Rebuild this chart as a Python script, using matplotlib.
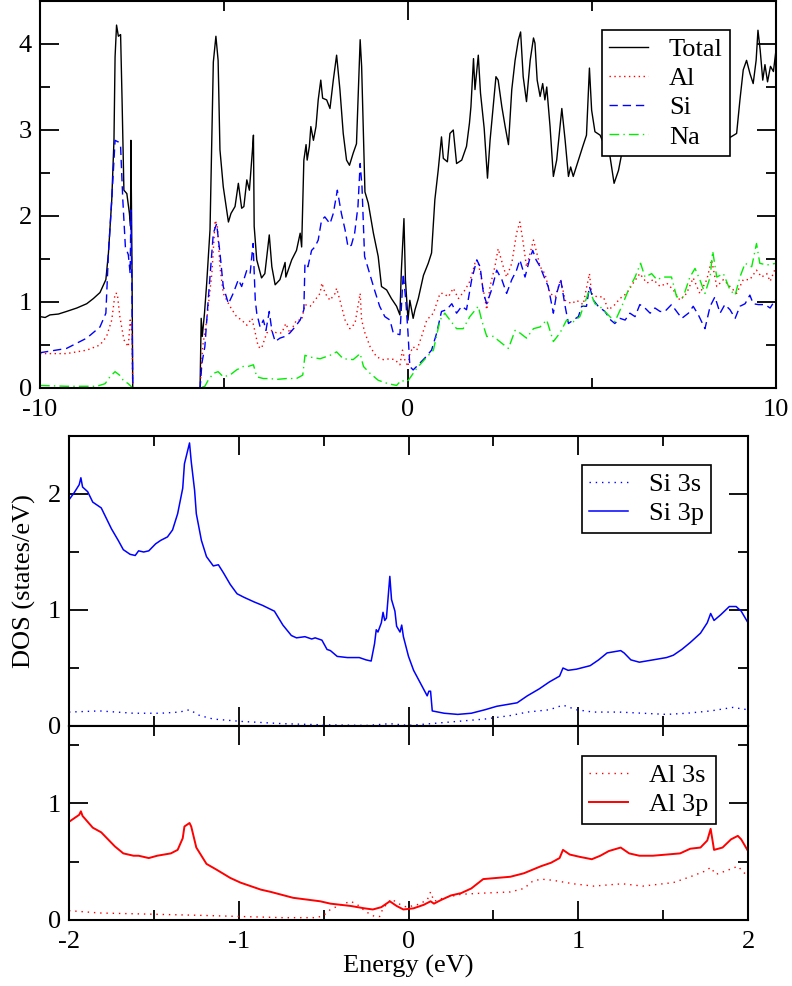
import matplotlib
matplotlib.use("Agg")
import matplotlib.pyplot as plt
from matplotlib.ticker import MultipleLocator

plt.rcParams['font.family'] = ['Liberation Serif', 'DejaVu Serif']
plt.rcParams['font.size'] = 19
plt.rcParams['axes.unicode_minus'] = False

# ---- top panel: total and partial DOS, -10..10 eV ----
total_e = [-10, -9.86, -9.73, -9.5, -9.28, -9.0, -8.73, -8.55, -8.37, -8.21, -8.14, -8.05, -7.99, -7.96,
           -7.92, -7.87, -7.81, -7.77, -7.72, -7.64, -7.57, -7.54, -7.53, -7.5, -7.48, -5.65, -5.62,
           -5.59, -5.53, -5.47, -5.38, -5.29, -5.22, -5.16, -5.11, -5.02, -4.88, -4.81, -4.70, -4.61,
           -4.52, -4.46, -4.38, -4.31, -4.23, -4.20, -4.18, -4.11, -3.98, -3.89, -3.77, -3.70, -3.61,
           -3.48, -3.34, -3.32, -3.16, -3.03, -2.93, -2.89, -2.83, -2.77, -2.74, -2.68, -2.64, -2.57,
           -2.50, -2.44, -2.37, -2.32, -2.21, -2.12, -2.03, -1.94, -1.85, -1.76, -1.67, -1.59, -1.49,
           -1.40, -1.30, -1.26, -1.17, -1.08, -0.94, -0.81, -0.72, -0.58, -0.45, -0.31, -0.22, -0.18,
           -0.11, -0.07, 0.0, 0.05, 0.14, 0.19, 0.28, 0.42, 0.55, 0.64, 0.73, 0.82, 0.91, 0.96, 1.07,
           1.14, 1.23, 1.32, 1.46, 1.59, 1.67, 1.71, 1.78, 1.82, 1.91, 1.97, 2.07, 2.16, 2.23, 2.39,
           2.45, 2.55, 2.64, 2.73, 2.82, 2.91, 3.00, 3.06, 3.13, 3.22, 3.32, 3.41, 3.45, 3.51, 3.59,
           3.66, 3.72, 3.77, 3.86, 3.95, 4.04, 4.18, 4.27, 4.36, 4.42, 4.49, 4.63, 4.75, 4.85, 4.93,
           4.99, 5.08, 5.22, 5.35, 5.49, 5.60, 5.72, 5.81, 6.0, 6.2, 6.5, 6.8, 7.1, 7.4, 7.7, 8.0,
           8.12, 8.4, 8.7, 8.93, 9.02, 9.11, 9.2, 9.29, 9.38, 9.46, 9.51, 9.57, 9.64, 9.7, 9.77,
           9.85, 9.93, 10.0]
total_dos = [0.83, 0.82, 0.85, 0.86, 0.89, 0.93, 0.98, 1.04, 1.11, 1.26, 1.57, 2.19, 2.88, 3.85,
             4.22, 4.09, 4.11, 3.35, 2.30, 2.26, 2.03, 1.88, 2.88, 1.41, 0.0, 0.0, 0.81,
             0.60, 0.87, 1.22, 1.84, 3.79, 4.09, 3.81, 2.77, 2.34, 1.93, 2.03, 2.11, 2.38,
             2.09, 2.11, 2.42, 2.30, 2.75, 2.94, 1.88, 1.49, 1.28, 1.33, 1.78, 1.41, 1.20,
             1.26, 1.46, 1.29, 1.49, 1.60, 1.80, 1.64, 2.65, 2.83, 2.65, 2.81, 3.04, 2.88,
             3.04, 3.35, 3.58, 3.37, 3.35, 3.25, 3.58, 3.87, 3.47, 2.96, 2.65, 2.59, 2.73,
             2.84, 4.05, 3.74, 2.28, 2.15, 1.80, 1.53, 1.18, 1.14, 1.04, 0.95, 0.85, 1.37,
             1.97, 1.26, 0.79, 1.02, 0.81, 0.91, 1.04, 1.31, 1.45, 1.57, 2.19, 2.53, 2.92, 2.67, 2.63,
             2.96, 3.00, 2.61, 2.65, 2.81, 3.08, 3.27, 3.83, 3.47, 3.87, 3.43, 3.02, 2.44, 2.88, 3.62,
             3.58, 3.27, 3.04, 2.83, 3.47, 3.81, 4.05, 4.14, 3.62, 3.33, 3.81, 4.07, 4.01, 3.58, 3.39,
             3.54, 3.35, 3.50, 3.04, 2.46, 2.65, 3.25, 2.88, 2.46, 2.57, 2.46, 2.65, 2.81, 2.94, 3.72,
             3.23, 2.98, 2.94, 2.81, 2.69, 2.38, 2.53, 2.73, 3.0, 3.4, 3.1, 3.6, 3.2, 3.5, 3.0, 3.2,
             2.73, 3.1, 2.9, 2.96, 3.35, 3.70, 3.81, 3.66, 3.54, 3.81, 4.16, 3.93, 3.58, 3.76, 3.56,
             3.74, 3.68, 3.93]

al_e = [-10, -9.28, -8.73, -8.37, -8.19, -8.05, -7.96, -7.9, -7.83, -7.72, -7.6, -7.55, -7.5, -7.48,
        -5.65, -5.58, -5.47, -5.33, -5.24, -5.18, -5.11, -5.02, -4.84, -4.66, -4.52, -4.38, -4.24,
        -4.15, -4.07, -3.98, -3.84, -3.70, -3.57, -3.43, -3.32, -3.21, -3.03, -2.89, -2.80, -2.66,
        -2.53, -2.39, -2.34, -2.25, -2.12, -1.98, -1.94, -1.85, -1.71, -1.58, -1.44, -1.30, -1.26,
        -1.17, -1.03, -0.85, -0.67, -0.49, -0.36, -0.22, -0.15, -0.09, 0.0, 0.05, 0.14, 0.24, 0.37,
        0.51, 0.69, 0.87, 0.96, 1.10, 1.23, 1.37, 1.55, 1.68, 1.82, 1.91, 2.0, 2.14, 2.23, 2.36,
        2.45, 2.59, 2.68, 2.82, 2.95, 3.04, 3.12, 3.22, 3.32, 3.41, 3.5, 3.59, 3.72, 3.86, 4.0,
        4.15, 4.27, 4.45, 4.58, 4.76, 4.93, 4.99, 5.13, 5.31, 5.44, 5.58, 5.76, 5.94, 6.12, 6.3,
        6.49, 6.67, 6.85, 7.03, 7.21, 7.39, 7.57, 7.75, 7.93, 8.12, 8.25, 8.39, 8.57, 8.75, 8.93,
        9.11, 9.29, 9.47, 9.61, 9.75, 9.84, 10.0]
al_dos = [0.40, 0.40, 0.44, 0.50, 0.60, 0.79, 1.10, 1.10, 0.83, 0.56, 0.48, 0.79, 0.64, 0.0,
          0.0, 0.48, 0.79, 1.33, 1.95, 1.88, 1.41, 1.10, 0.95, 0.83, 0.79, 0.73, 0.81,
          0.64, 0.48, 0.46, 0.64, 0.67, 0.64, 0.64, 0.75, 0.64, 0.79, 0.79, 0.97, 0.95,
          1.02, 1.10, 1.22, 1.10, 1.02, 1.10, 1.16, 1.02, 0.79, 0.69, 0.75, 1.10, 0.79,
          0.64, 0.48, 0.36, 0.33, 0.34, 0.33, 0.27, 0.44, 0.33, 0.25, 0.40, 0.48, 0.44, 0.60,
          0.79, 0.87, 1.10, 1.10, 1.06, 1.16, 1.04, 1.14, 1.24, 1.45, 1.45, 1.26, 0.91, 1.18, 1.41,
          1.62, 1.41, 1.29, 1.45, 1.80, 1.93, 1.72, 1.41, 1.57, 1.72, 1.57, 1.41, 1.33, 1.10, 1.06,
          1.26, 1.02, 0.98, 1.02, 0.97, 1.33, 1.10, 1.06, 1.06, 0.91, 0.95, 1.04, 1.10, 1.22, 1.33,
          1.22, 1.26, 1.18, 1.22, 1.14, 1.02, 1.10, 1.28, 1.10, 1.26, 1.49, 1.18, 1.26, 1.18, 1.10,
          1.26, 1.26, 1.37, 1.29, 1.33, 1.24, 1.41]

si_e = [-10, -9.28, -8.73, -8.37, -8.21, -8.14, -8.05, -7.96, -7.87, -7.81, -7.75, -7.68, -7.6, -7.55,
        -7.53, -7.5, -7.48, -5.65, -5.6, -5.52, -5.43, -5.29, -5.2, -5.11, -5.02, -4.88, -4.75,
        -4.61, -4.52, -4.38, -4.29, -4.21, -4.15, -4.11, -4.02, -3.93, -3.86, -3.77, -3.70, -3.61,
        -3.48, -3.34, -3.21, -3.07, -2.93, -2.83, -2.80, -2.72, -2.62, -2.53, -2.44, -2.35, -2.26,
        -2.12, -2.03, -1.92, -1.81, -1.71, -1.63, -1.54, -1.45, -1.36, -1.30, -1.25, -1.18, -1.04,
        -0.91, -0.77, -0.63, -0.49, -0.40, -0.22, -0.13, -0.06, 0.0, 0.05, 0.14, 0.28, 0.46, 0.64,
        0.78, 0.91, 1.05, 1.19, 1.32, 1.46, 1.59, 1.73, 1.87, 1.96, 2.05, 2.14, 2.27, 2.41, 2.55,
        2.68, 2.82, 2.95, 3.04, 3.18, 3.30, 3.39, 3.48, 3.59, 3.70, 3.81, 3.95, 4.04, 4.15, 4.27,
        4.36, 4.49, 4.63, 4.72, 4.85, 4.93, 5.04, 5.17, 5.35, 5.51, 5.62, 5.76, 5.90, 6.03, 6.17,
        6.3, 6.44, 6.58, 6.71, 6.85, 6.98, 7.16, 7.3, 7.44, 7.62, 7.75, 7.89, 8.07, 8.21, 8.34,
        8.48, 8.61, 8.75, 8.89, 9.02, 9.16, 9.29, 9.38, 9.52, 9.7, 9.84, 10.0]
si_dos = [0.41, 0.46, 0.58, 0.71, 0.87, 1.57, 2.19, 2.88, 2.86, 2.81, 2.19, 1.64, 1.55, 1.33,
          2.07, 1.02, 0.0, 0.0, 0.29, 0.48, 1.02, 1.80, 1.91, 1.57, 1.18, 0.98, 1.10,
          1.26, 1.18, 1.37, 1.33, 1.68, 1.02, 0.87, 0.71, 0.79, 0.67, 0.89, 0.67, 0.54,
          0.58, 0.60, 0.64, 0.71, 0.79, 0.91, 1.45, 1.41, 1.60, 1.64, 1.72, 1.95, 1.99,
          1.91, 2.03, 2.30, 2.03, 1.84, 1.64, 1.66, 1.80, 2.11, 2.61, 2.34, 1.53, 1.33,
          1.14, 0.95, 0.83, 0.79, 0.64, 0.62, 1.33, 1.02, 0.64, 0.25, 0.21, 0.27, 0.35, 0.44,
          0.64, 0.89, 0.91, 0.98, 0.87, 0.95, 0.91, 1.26, 1.49, 1.41, 1.10, 0.98, 1.14, 1.37, 1.26,
          1.10, 1.26, 1.37, 1.49, 1.29, 1.49, 1.60, 1.49, 1.41, 1.29, 1.18, 0.87, 1.10, 1.26, 0.95,
          0.75, 0.79, 0.83, 0.95, 0.95, 1.18, 1.02, 0.95, 0.89, 0.79, 0.75, 0.81, 0.79, 0.87, 0.83,
          0.97, 0.93, 0.87, 0.93, 0.89, 0.89, 0.97, 0.89, 0.81, 0.87, 0.95, 0.85, 0.69, 0.95, 1.06,
          0.87, 0.97, 0.91, 0.81, 0.95, 0.98, 1.08, 0.98, 0.97, 0.97, 0.93, 1.04]

na_e = [-10, -9.28, -8.46, -8.23, -8.1, -7.96, -7.84, -7.74, -7.6, -7.48, -5.65, -5.52, -5.43, -5.29,
        -5.16, -5.02, -4.84, -4.66, -4.48, -4.35, -4.2, -4.11, -3.93, -3.75, -3.57, -3.3, -3.03,
        -2.86, -2.80, -2.66, -2.39, -2.12, -1.94, -1.76, -1.49, -1.30, -1.21, -1.03, -0.81, -0.54,
        -0.31, -0.18, -0.06, 0.01, 0.24, 0.51, 0.69, 0.87, 1.0, 1.14, 1.32, 1.50, 1.68, 1.91, 2.0,
        2.14, 2.32, 2.55, 2.73, 2.91, 3.04, 3.22, 3.41, 3.59, 3.77, 3.95, 4.13, 4.31, 4.49, 4.67,
        4.93, 5.08, 5.26, 5.44, 5.62, 5.81, 5.99, 6.17, 6.32, 6.44, 6.62, 6.76, 6.94, 7.16, 7.3,
        7.48, 7.66, 7.8, 7.93, 8.07, 8.21, 8.28, 8.39, 8.57, 8.75, 8.89, 9.02, 9.16, 9.34, 9.47,
        9.56, 9.75, 10.0]
na_dos = [0.03, 0.02, 0.02, 0.05, 0.13, 0.19, 0.15, 0.09, 0.05, 0.0, 0.0, 0.02, 0.09, 0.17,
          0.19, 0.13, 0.15, 0.21, 0.25, 0.25, 0.27, 0.13, 0.11, 0.11, 0.10, 0.11, 0.11,
          0.15, 0.38, 0.36, 0.34, 0.38, 0.42, 0.34, 0.33, 0.40, 0.25, 0.17, 0.09, 0.05,
          0.03, 0.09, 0.07, 0.09, 0.23, 0.36, 0.44, 0.79, 0.87, 0.79, 0.69, 0.69, 0.83, 0.95, 0.79,
          0.60, 0.60, 0.52, 0.46, 0.67, 0.64, 0.58, 0.69, 0.71, 0.79, 0.54, 0.64, 0.79, 0.77, 0.83,
          1.14, 0.98, 0.93, 0.85, 0.77, 0.95, 1.14, 1.29, 1.45, 1.29, 1.33, 1.26, 1.29, 1.29, 1.06,
          1.06, 1.29, 1.39, 1.26, 1.10, 1.29, 1.59, 1.29, 1.33, 1.14, 1.08, 1.29, 1.45, 1.41, 1.68,
          1.45, 1.43, 1.45]

# ---- middle panel: Si orbitals, -2..2 eV ----
si3p_e = [-2.0, -1.97, -1.94, -1.93, -1.92, -1.89, -1.86, -1.81, -1.78, -1.75, -1.71, -1.68, -1.64,
          -1.61, -1.59, -1.56, -1.53, -1.49, -1.46, -1.42, -1.39, -1.36, -1.33, -1.32, -1.30, -1.29,
          -1.28, -1.26, -1.25, -1.22, -1.19, -1.15, -1.12, -1.09, -1.05, -1.01, -0.97, -0.91, -0.86,
          -0.79, -0.74, -0.69, -0.66, -0.61, -0.57, -0.55, -0.51, -0.48, -0.46, -0.42, -0.36, -0.29,
          -0.25, -0.22, -0.20, -0.19, -0.18, -0.16, -0.15, -0.14, -0.13, -0.12, -0.11, -0.10, -0.08,
          -0.07, -0.05, -0.04, -0.03, 0.0, 0.03, 0.07, 0.11, 0.12, 0.13, 0.14, 0.21, 0.29, 0.37,
          0.45, 0.52, 0.64, 0.70, 0.77, 0.83, 0.89, 0.91, 0.94, 0.99, 1.07, 1.12, 1.17, 1.21, 1.25,
          1.27, 1.31, 1.36, 1.44, 1.52, 1.56, 1.61, 1.66, 1.72, 1.76, 1.78, 1.80, 1.84, 1.89, 1.93,
          1.96, 2.0]
si3p_dos = [1.95, 2.01, 2.08, 2.14, 2.06, 2.02, 1.93, 1.88, 1.79, 1.70, 1.60, 1.52, 1.48,
            1.47, 1.51, 1.50, 1.51, 1.57, 1.60, 1.63, 1.69, 1.83, 2.05, 2.26, 2.38, 2.44,
            2.28, 2.03, 1.83, 1.60, 1.46, 1.38, 1.39, 1.32, 1.22, 1.14, 1.11, 1.07, 1.04,
            0.99, 0.87, 0.78, 0.76, 0.77, 0.75, 0.76, 0.74, 0.66, 0.65, 0.60, 0.59, 0.59,
            0.57, 0.56, 0.71, 0.83, 0.81, 0.89, 0.98, 0.91, 0.93, 1.11, 1.29, 1.09, 0.99,
            0.86, 0.81, 0.87, 0.77, 0.60, 0.48, 0.37, 0.26, 0.30, 0.30, 0.13, 0.11, 0.10, 0.11,
            0.14, 0.17, 0.20, 0.26, 0.32, 0.38, 0.43, 0.50, 0.48, 0.49, 0.52, 0.57, 0.63, 0.64, 0.65,
            0.63, 0.57, 0.55, 0.57, 0.59, 0.61, 0.66, 0.72, 0.80, 0.89, 0.97, 0.91, 0.96, 1.03, 1.03,
            0.99, 0.89]

si3s_e = [-2.0, -1.82, -1.62, -1.46, -1.35, -1.29, -1.23, -1.15, -0.99, -0.74, -0.50, -0.24, -0.11,
          0.0, 0.13, 0.29, 0.45, 0.60, 0.70, 0.83, 0.91, 0.99, 1.09, 1.24, 1.38, 1.52, 1.64, 1.78,
          1.91, 2.0]
si3s_dos = [0.12, 0.13, 0.11, 0.11, 0.12, 0.14, 0.09, 0.06, 0.04, 0.02, 0.01, 0.005, 0.02,
            0.005, 0.02, 0.04, 0.06, 0.09, 0.12, 0.14, 0.18, 0.14, 0.12, 0.12, 0.11, 0.10, 0.11, 0.13,
            0.16, 0.14]

# ---- bottom panel: Al orbitals, -2..2 eV ----
al3p_e = [-2.0, -1.96, -1.94, -1.93, -1.92, -1.89, -1.86, -1.81, -1.77, -1.73, -1.68, -1.62, -1.59,
          -1.53, -1.48, -1.40, -1.36, -1.33, -1.32, -1.29, -1.28, -1.25, -1.19, -1.13, -1.05, -0.99,
          -0.87, -0.81, -0.68, -0.52, -0.46, -0.34, -0.26, -0.21, -0.16, -0.11, -0.07, -0.03, 0.03,
          0.09, 0.13, 0.15, 0.19, 0.25, 0.31, 0.37, 0.44, 0.52, 0.60, 0.68, 0.78, 0.84, 0.89, 0.91,
          0.95, 1.01, 1.08, 1.13, 1.18, 1.25, 1.30, 1.36, 1.44, 1.52, 1.60, 1.66, 1.72, 1.76, 1.78,
          1.80, 1.85, 1.90, 1.94, 1.96, 2.0]
al3p_dos = [0.84, 0.88, 0.90, 0.93, 0.89, 0.84, 0.79, 0.75, 0.69, 0.63, 0.57, 0.55, 0.55,
            0.53, 0.55, 0.57, 0.60, 0.70, 0.80, 0.83, 0.80, 0.62, 0.48, 0.43, 0.36, 0.32,
            0.26, 0.24, 0.19, 0.16, 0.14, 0.12, 0.10, 0.09, 0.11, 0.16, 0.12, 0.09, 0.10,
            0.13, 0.16, 0.14, 0.17, 0.21, 0.23, 0.27, 0.35, 0.36, 0.37, 0.40, 0.46, 0.49, 0.53, 0.60,
            0.56, 0.54, 0.52, 0.55, 0.59, 0.62, 0.57, 0.55, 0.55, 0.56, 0.57, 0.61, 0.62, 0.68, 0.78,
            0.60, 0.62, 0.69, 0.72, 0.69, 0.59]

al3s_e = [-2.0, -1.82, -1.52, -1.23, -0.99, -0.74, -0.54, -0.50, -0.46, -0.40, -0.34, -0.30, -0.25,
          -0.20, -0.17, -0.15, -0.10, -0.06, -0.01, 0.05, 0.11, 0.13, 0.15, 0.21, 0.31, 0.44, 0.60,
          0.68, 0.73, 0.78, 0.85, 0.97, 1.09, 1.26, 1.38, 1.56, 1.66, 1.75, 1.78, 1.81, 1.87, 1.94,
          1.96, 2.0]
al3s_dos = [0.08, 0.06, 0.05, 0.04, 0.03, 0.02, 0.02, 0.04, 0.09, 0.13, 0.16, 0.13, 0.07,
            0.03, 0.03, 0.10, 0.18, 0.14, 0.11, 0.13, 0.17, 0.24, 0.16, 0.19, 0.22, 0.23, 0.24,
            0.27, 0.33, 0.35, 0.34, 0.31, 0.29, 0.31, 0.29, 0.32, 0.37, 0.42, 0.45, 0.39, 0.42, 0.46,
            0.43, 0.37]


def style_axes(ax):
    for sp in ax.spines.values():
        sp.set_linewidth(1.5)
    ax.tick_params(which='both', direction='in', top=True, right=True, width=1.3)
    ax.tick_params(which='major', length=14, pad=6)
    ax.tick_params(which='minor', length=7)
    ax.tick_params(axis='x', which='major', pad=8)


def add_legend(ax, anchor):
    leg = ax.legend(loc='upper left', bbox_to_anchor=anchor, borderaxespad=0,
                    fancybox=False, edgecolor='black', framealpha=1,
                    handlelength=1.45, handletextpad=0.8, labelspacing=0.22,
                    borderpad=0.28, fontsize=19)
    leg.get_frame().set_linewidth(1.2)
    return leg


fig = plt.figure(figsize=(7.92, 9.86), dpi=100)

# top panel
ax1 = fig.add_axes([40 / 792, 1 - 388 / 986, 736 / 792, 387 / 986])
ax1.plot(total_e, total_dos, color='black', lw=1.0, label='Total')
ax1.plot(al_e, al_dos, color='red', lw=1.0, linestyle=(0, (1, 2.5)), label='Al')
ax1.plot(si_e, si_dos, color='blue', lw=1.0, linestyle=(0, (6, 3.5)), label='Si')
ax1.plot(na_e, na_dos, color='#00ee00', lw=1.0, linestyle=(0, (7, 3, 1, 3)), label='Na')
ax1.set_xlim(-10, 10)
ax1.set_ylim(0, 4.5)
ax1.xaxis.set_major_locator(MultipleLocator(10))
ax1.xaxis.set_minor_locator(MultipleLocator(5))
ax1.yaxis.set_major_locator(MultipleLocator(1))
ax1.yaxis.set_minor_locator(MultipleLocator(0.5))
style_axes(ax1)
add_legend(ax1, ((602 - 40) / 736, 1 - 29 / 387))

# middle panel
ax2 = fig.add_axes([69 / 792, 1 - 726 / 986, 679 / 792, 290 / 986])
ax2.plot(si3s_e, si3s_dos, color='blue', lw=1.0, linestyle=(0, (1, 3.5)), label='Si 3s')
ax2.plot(si3p_e, si3p_dos, color='blue', lw=1.1, label='Si 3p')
ax2.set_xlim(-2, 2)
ax2.set_ylim(0, 2.5)
ax2.xaxis.set_major_locator(MultipleLocator(1))
ax2.xaxis.set_minor_locator(MultipleLocator(0.5))
ax2.yaxis.set_major_locator(MultipleLocator(1))
ax2.yaxis.set_minor_locator(MultipleLocator(0.5))
ax2.set_xticklabels([])
ax2.set_ylabel('DOS (states/eV)', labelpad=8)
style_axes(ax2)
add_legend(ax2, ((582 - 69) / 679, 1 - 29 / 290))

# bottom panel
ax3 = fig.add_axes([69 / 792, 1 - 920 / 986, 679 / 792, 194 / 986])
ax3.plot(al3s_e, al3s_dos, color='red', lw=1.0, linestyle=(0, (1, 3.5)), label='Al 3s')
ax3.plot(al3p_e, al3p_dos, color='red', lw=1.4, label='Al 3p')
ax3.set_xlim(-2, 2)
ax3.set_ylim(0, 1.66)
ax3.xaxis.set_major_locator(MultipleLocator(1))
ax3.xaxis.set_minor_locator(MultipleLocator(0.5))
ax3.yaxis.set_major_locator(MultipleLocator(1))
ax3.yaxis.set_minor_locator(MultipleLocator(0.5))
ax3.set_xlabel('Energy (eV)', labelpad=1)
style_axes(ax3)
add_legend(ax3, ((582 - 69) / 679, 1 - 30 / 194))

fig.savefig('out.png', dpi=100)
